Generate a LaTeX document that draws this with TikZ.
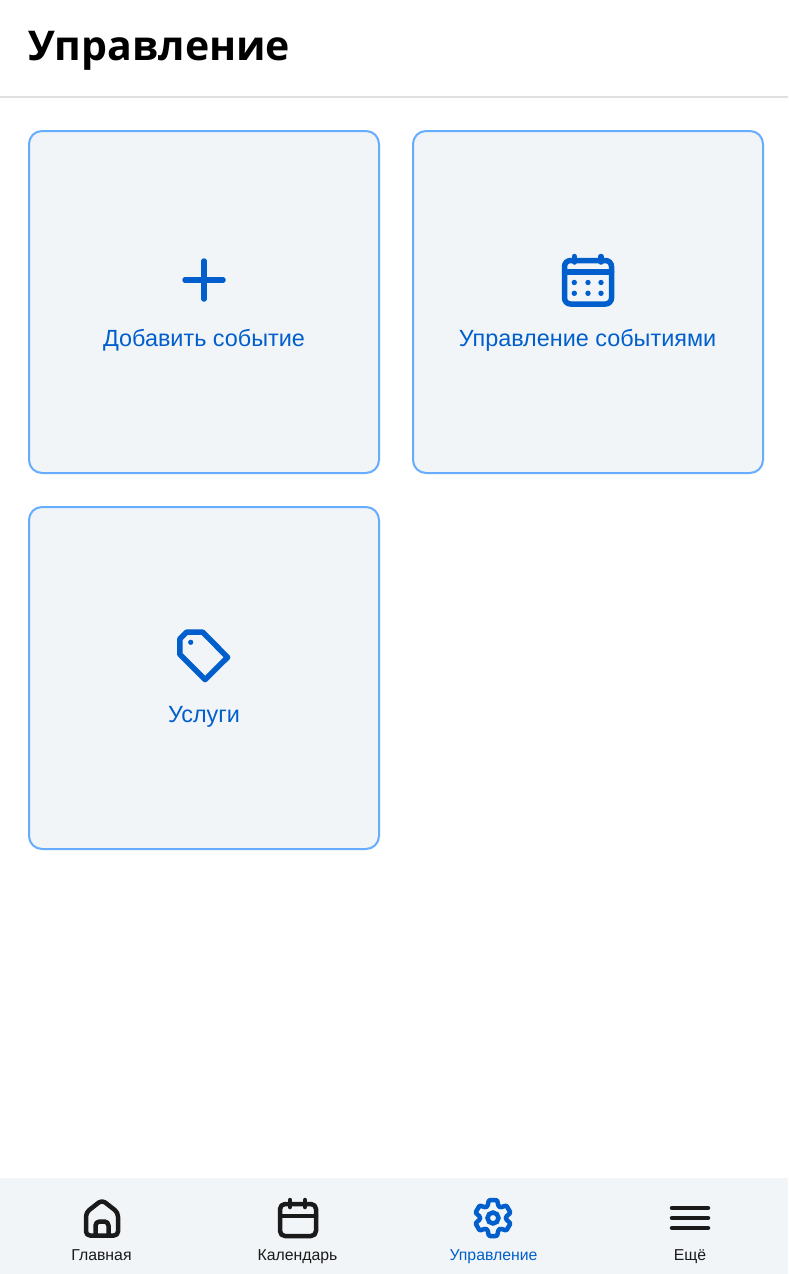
\documentclass[tikz,border=0pt]{standalone}
\usepackage{fontspec}
\setmainfont{Liberation Sans}
\newfontfamily\titlefont{Open Sans}
\definecolor{cardfill}{HTML}{F2F5F8}
\definecolor{cardline}{HTML}{66ACFF}
\definecolor{brand}{HTML}{005FCC}
\definecolor{ink}{HTML}{1A1A1A}
\tikzset{
  card/.style={draw=cardline,line width=2pt,fill=cardfill,rounded corners=13pt},
  cardlabel/.style={anchor=base,inner sep=0pt,text=brand,font=\fontsize{23.4}{28}\selectfont},
  navlabel/.style={anchor=base,inner sep=0pt,text=ink,font=\fontsize{15.8}{20}\selectfont},
  icon/.style={line width=5.5pt,draw=brand,line cap=round,line join=round},
  navicon/.style={line width=4.5pt,draw=ink,line cap=round,line join=round}
}
\begin{document}
\begin{tikzpicture}[x=1pt,y=-1pt]
\useasboundingbox (0,0) rectangle (788,1274);
\fill[white] (0,0) rectangle (788,1274);
% header
\node[anchor=base west,inner sep=0pt,text=black,font=\titlefont\bfseries\fontsize{41}{46}\selectfont] (title) at (28,60) {Управление};
\fill[black!12] (0,96) rectangle (788,98);
% cards
\draw[card] (29,131) rectangle (379,473);
\draw[card] (413,131) rectangle (763,473);
\draw[card] (29,507) rectangle (379,849);
% plus
\draw[icon] (204,261) -- (204,299) (185,280) -- (223,280);
\node[cardlabel] (add) at (204,346) {Добавить событие};
% calendar
\draw[icon,rounded corners=6pt] (564.5,260.5) rectangle (611.5,304);
\draw[icon] (564.5,272) -- (611.5,272) (574.3,256.5) -- (574.3,262) (601,256.5) -- (601,262);
\foreach \x in {574.3,588,601}{\foreach \y in {282.5,293.3}{\fill[brand] (\x,\y) circle[radius=2.7];}}
\node[cardlabel] (events) at (587.5,346) {Управление событиями};
% tag
\draw[icon] (186.5,632.2) -- (202.7,632.2) -- (227.6,657.3) -- (205,679.6) -- (179.8,654.3) -- (179.8,639) -- cycle;
\fill[brand] (190.7,642.3) circle[radius=2.6];
\node[cardlabel] (services) at (204,722) {Услуги};
% bottom bar
\fill[cardfill] (0,1178) rectangle (788,1274);
% home
\draw[navicon,rounded corners=4pt] (86,1235.5) -- (86,1212.5) -- (102,1200) -- (118,1212.5) -- (118,1235.5) -- cycle;
\draw[navicon,rounded corners=4pt] (95.5,1235.5) -- (95.5,1221.5) -- (108.5,1221.5) -- (108.5,1235.5);
\node[navlabel] (home) at (101.5,1260) {Главная};
% nav calendar
\draw[navicon,rounded corners=5pt] (280,1204) rectangle (316,1236);
\draw[navicon] (280,1216) -- (316,1216) (290,1200) -- (290,1207) (305,1200) -- (305,1207);
\node[navlabel] (cal) at (297.5,1260) {Календарь};
% gear
\draw[navicon,draw=brand,rounded corners=1pt,shift={(493,1218)}]
  (90:18.3)
  \foreach \a in {90,30,-30,-90,-150,-210}{
    -- (\a-13:18.3) -- (\a-25:13) -- (\a-35:13) -- (\a-47:18.3)
  } -- cycle;
\draw[line width=4.5pt,draw=brand] (493,1218) circle[radius=5.5];
\node[navlabel,text=brand] (manage) at (493.5,1260) {Управление};
% menu
\draw[navicon] (672,1208) -- (708,1208) (672,1218) -- (708,1218) (672,1228) -- (708,1228);
\node[navlabel] (more) at (690,1260) {Ещё};
\end{tikzpicture}
\end{document}
